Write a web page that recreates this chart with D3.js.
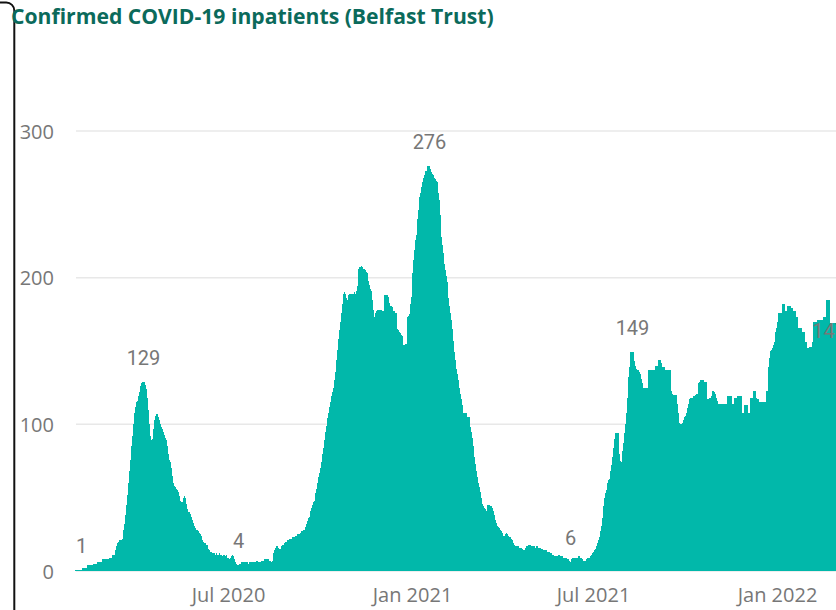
<!DOCTYPE html>
<html>
<head>
<meta charset="utf-8">
<script src="https://cdn.jsdelivr.net/npm/d3@7"></script>
<style>
  html, body { margin: 0; padding: 0; background: #fff; overflow: hidden; }
  svg { display: block; }
</style>
</head>
<body>
<svg id="chart" width="836" height="610"></svg>
<script>
// Daily confirmed COVID-19 inpatients in the Belfast Trust, one value per day.
const start2020 = "2020-01-30";
const inpatients2020 = [
  1,1,1,1,1,1,1, 2,2,2,2,2, 4,4,4,4,4,4, 5,5,5,5, 6,6,6,6,6,
  8,8,8,8,8,8,8, 9,9,9, 11,11,11, 14,17,19, 20,21,21,21,22,
  28,32,38,45,52,60,68,76,85,92,100,108,
  112,115,116,119,122,126,128,129,129,129,
  127,124,118,110,100,92,89,90,97,103,
  106,107,107,105,103,100,98,97,95,93,
  91,89,85,80,76,74,70,65,60,58,
  57,56,55,54,51,48,47,47,50,51,
  50,46,42,40,40,39,37,35,33,31,
  29,28,28,27,26,25,24,21,20,19,
  19,18,18,15,14,13,13,12,12,12,
  11,12,11,11,12,11,11,10,11,11,10,11,
  9,9,8,9,10,11,10,8,6,5,
  4,4,5,5,
  6,6,6,6,6,6,6,5,6,6,6,6,6,6,6,7,7,6,6,
  6,7,7,7,8,8,8,8,8,7,7,6,7,
  12,14,16,17,17,16,15,15,17,18,
  18,19,20,20,21,21,22,22,22,23,23,23,
  24,24,25,25,25,26,27,27,28,28,
  30,32,34,36,37,41,43,45,47,48,
  53,56,60,64,67,70,74,80,84,89,
  95,99,104,108,112,115,119,122,125,130,
  136,144,151,158,164,170,176,182,189,190,
  189,186,185,188,189,189,189,189,189,190,
  189,191,194,206,207,207,208,207,206,206,
  205,204,203,198,195,192,191,185,178,173,
  176,177,178,178,178,178,178,177,177,188,
  188,188,188,187,183,181,181,180,177,177,
  176,176,165,164,163,162,161,160,154,154,
  155,155,173,174,175,182,187
];

const start2021 = "2021-01-01";
const inpatients2021 = [
  203,212,219,226,229,240,246,255,258,262,
  265,268,270,273,273,276,276,276,274,272,
  271,270,268,267,266,265,258,253,243,228,
  222,217,209,205,201,197,186,181,176,171,
  165,157,149,144,138,134,130,125,121,117,
  113,108,108,108,108,105,105,105,98,95,
  91,85,78,73,68,64,60,57,54,50,
  46,44,43,42,41,45,45,45,44,44,
  43,41,38,35,33,31,30,29,28,27,
  26,24,24,25,26,25,24,23,23,22,
  21,19,18,17,17,17,17,16,16,16,
  15,14,14,16,17,17,18,18,18,17,
  17,17,17,16,17,17,16,16,16,15,
  15,14,14,14,14,13,13,13,12,12,
  11,11,10,10,10,10,11,11,10,10,
  10,9,9,9,9,8,8,7,6,8,
  9,9,9,9,9,9,10,10,9,9,
  8,7,7,7,8,9,9,9,10,11,
  12,13,14,15,17,19,21,23,27,31,
  36,44,50,53,55,60,62,63,68,72,
  78,84,90,94,94,94,94,80,75,74,
  82,87,94,100,108,118,132,139,149,149,
  149,149,143,140,138,137,137,136,134,131,
  128,125,125,125,125,125,137,137,137,137,
  137,137,137,140,140,140,144,144,144,142,
  139,139,139,137,137,137,137,137,137,123,
  121,120,120,120,120,114,108,101,100,100,
  101,103,105,106,108,111,114,117,118,118,
  118,119,119,120,121,121,128,129,130,130,
  130,130,129,129,129,117,117,118,118,119,
  123,123,122,121,118,116,114,114,114,114,
  114,114,114,114,114,119,119,119,119,119,
  114,114,118,118,118,119,119,119,119,119,
  108,108,113,113,113,113,108,108,118,118,
  118,123,123,123,118,117,117,115,115,115,
  115,115,115,115,123,123,139,145,150,151,
  152,154,156,163,166
];

const start2022 = "2022-01-01";
const inpatients2022 = [
  170,176,176,176,176,182,182,182,177,177,
  181,181,181,181,179,179,177,177,177,173,
  173,166,166,166,166,163,163,163,156,156,
  152,152,153,153,153,156,170,170,170,170,
  171,171,171,171,171,171,173,173,173,185,
  185,185,185,169,169,169,169,169,169,169,
  168,168,166,165,162,158,154,150,147
];

// Days whose value is printed above the bars
const labelledDays = ["2020-02-05", "2020-04-07", "2020-07-11", "2021-01-18",
                      "2021-06-08", "2021-08-09", "2022-03-10"];

const yTicks = [0, 100, 200, 300];
const xTickDates = ["2020-07-01", "2021-01-01", "2021-07-01", "2022-01-01"];
const xTickLabels = ["Jul 2020", "Jan 2021", "Jul 2021", "Jan 2022"];

const chartTitle = "Confirmed COVID-19 inpatients (Belfast Trust)";

// ---------------------------------------------------------------------------
const parseDay = d3.utcParse("%Y-%m-%d");
const toSeries = (start, values) =>
  values.map((v, i) => ({ date: d3.utcDay.offset(parseDay(start), i), value: v }));

const data = [
  ...toSeries(start2020, inpatients2020),
  ...toSeries(start2021, inpatients2021),
  ...toSeries(start2022, inpatients2022)
];

const svg = d3.select("#chart");
const plotLeft = 75, plotRight = 846, plotBottom = 571, plotTop = 131;

const x = d3.scaleUtc()
  .domain([data[0].date, d3.utcDay.offset(data[data.length - 1].date, 1)])
  .range([plotLeft, plotRight]);

const y = d3.scaleLinear()
  .domain([0, 300])
  .range([plotBottom, plotTop]);

const teal = "#01B8AA";
const axisGrey = "#777777";
const uiFont = "'Segoe UI', 'Open Sans', 'Noto Sans', sans-serif";

// Edge of the neighbouring visual container
svg.append("path")
  .attr("d", "M0,2.5 H6.3 A8,8 0 0 1 14.3,10.5 V612")
  .attr("fill", "none")
  .attr("stroke", "#111")
  .attr("stroke-width", 2);

// Horizontal gridlines
svg.append("g")
  .selectAll("line")
  .data(yTicks)
  .join("line")
  .attr("x1", plotLeft + 1)
  .attr("x2", plotRight)
  .attr("y1", d => y(d))
  .attr("y2", d => y(d))
  .attr("stroke", "#e8e8e8")
  .attr("stroke-width", 1.5);

// Y axis labels
const yAxis = d3.axisLeft(y).tickValues(yTicks).tickSize(0).tickPadding(0);
const yAxisG = svg.append("g")
  .attr("transform", "translate(54,0)")
  .call(yAxis);
yAxisG.select(".domain").remove();
yAxisG.selectAll("text")
  .attr("fill", axisGrey)
  .attr("font-family", uiFont)
  .attr("font-size", 20)
  .attr("dy", "0.36em");

// X axis labels
const xAxis = d3.axisBottom(x)
  .tickValues(xTickDates.map(parseDay))
  .tickFormat((d, i) => xTickLabels[i])
  .tickSize(0).tickPadding(0);
const xAxisG = svg.append("g")
  .attr("transform", "translate(0,602)")
  .call(xAxis);
xAxisG.select(".domain").remove();
xAxisG.selectAll("text")
  .attr("fill", axisGrey)
  .attr("font-family", uiFont)
  .attr("font-size", 20)
  .attr("dy", 0);

// Daily bars
svg.append("g")
  .attr("shape-rendering", "crispEdges")
  .selectAll("rect")
  .data(data)
  .join("rect")
  .attr("x", d => x(d.date))
  .attr("width", d => x(d3.utcDay.offset(d.date, 1)) - x(d.date))
  .attr("y", d => y(d.value))
  .attr("height", d => y(0) - y(d.value))
  .attr("fill", teal);

// Value labels
const byDay = new Map(data.map(d => [+d.date, d]));
const labelled = labelledDays.map(s => byDay.get(+parseDay(s)));
const labelG = svg.append("g");
labelled.forEach(d => {
  const t = labelG.append("text")
    .attr("text-anchor", "middle")
    .attr("font-family", "Roboto, 'DejaVu Sans', sans-serif")
    .attr("font-size", 20)
    .attr("fill", axisGrey)
    .attr("y", y(d.value) - 17)
    .text(d.value);
  const w = t.node().getComputedTextLength();
  const cx = x(d.date) + 0.5;
  t.attr("x", Math.max(plotLeft + w / 2, Math.min(cx, plotRight - w / 2)));
});

// Title
const titleText = svg.append("text")
  .attr("x", 11)
  .attr("y", 24)
  .attr("font-family", uiFont)
  .attr("font-weight", 700)
  .attr("font-size", 20)
  .attr("fill", "#0b6a5b")
  .text(chartTitle);
const tw = titleText.node().getComputedTextLength();
titleText.attr("font-size", 20 * 483 / tw);
</script>
</body>
</html>
